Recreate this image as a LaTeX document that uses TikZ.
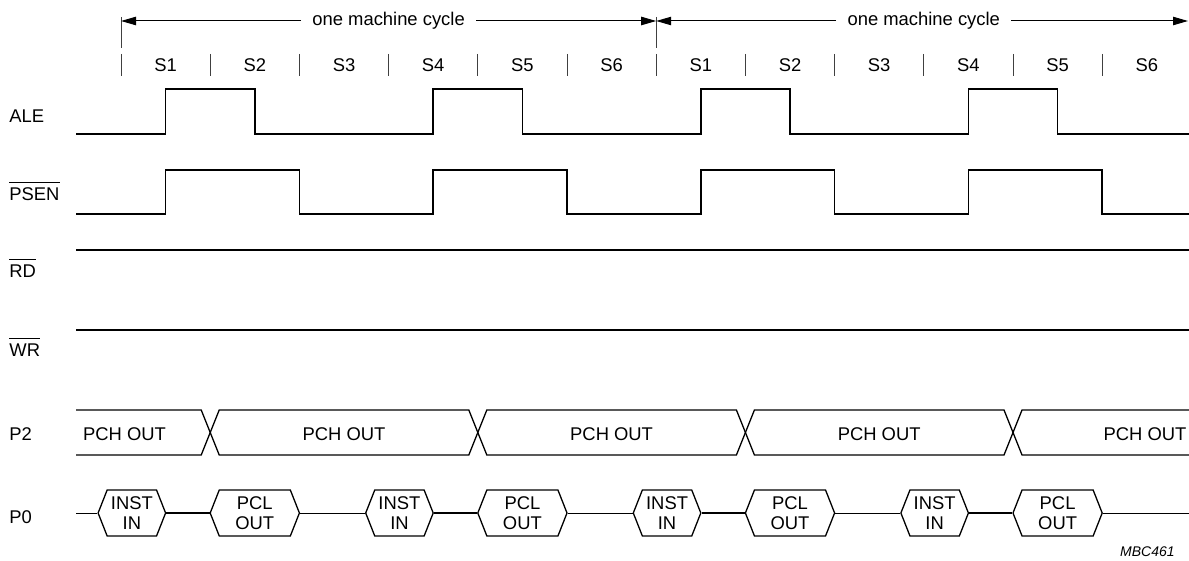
\documentclass[tikz,border=0pt]{standalone}
\usepackage{fontspec}
\setmainfont{Liberation Sans}
\usetikzlibrary{arrows.meta, positioning, calc, shapes.symbols}

% segnale attivo basso: barra sopra il nome
\newcommand{\negato}[1]{$\overline{\mbox{\rule{0pt}{7.8pt}#1}}$}

\begin{document}
\begin{tikzpicture}[
  x=0.5pt, y=-0.5pt,
  font=\fontsize{9.2}{10}\selectfont,
  segnale/.style={draw=black, line width=0.85pt},
  tacca/.style={draw=black!75, line width=0.5pt},
  freccia/.style={draw=black, line width=0.5pt, -{Triangle[length=7.5pt, width=4.2pt]}},
  nome/.style={anchor=base west, inner sep=0pt},
  stato/.style={anchor=base, inner sep=0pt},
  ciclo/.style={inner xsep=5.5pt, inner ysep=0pt},
  dato/.style={draw=black, line width=0.65pt},
  esagono/.style={draw=black, line width=0.65pt, shape=signal, signal to=east and west,
                  signal pointer angle=137, minimum width=33.75pt, minimum height=23pt,
                  inner sep=0pt, align=center},
  flottante/.style={draw=black, line width=1.15pt},
  libero/.style={draw=black, line width=0.5pt}
]

% Passo di uno stato (S1...S6) in pixel dell'originale: \T{k} = inizio dello stato k
\def\T#1{(121+(#1)*89.2)}

\useasboundingbox (0,0) rectangle (1189,561);

% ---- nomi dei segnali ----------------------------------------------
\node[nome] (ale)  at (9,122.5) {ALE};
\node[nome] (psen) at (9,201)   {\negato{PSEN}};
\node[nome] (rd)   at (9,278)   {\negato{RD}};
\node[nome] (wr)   at (9,357)   {\negato{WR}};
\node[nome] (p2)   at (9,440)   {P2};
\node[nome] (p0)   at (9,523)   {P0};

% ---- cicli macchina e stati ----------------------------------------
\coordinate (inizio1) at ({\T{0}},21);
\coordinate (fine1)   at ({\T{6}},21);
\coordinate (fine2)   at (1188,21);
\draw[tacca] ({\T{0}},17) -- ({\T{0}},48);
\draw[tacca] ({\T{6}},17) -- ({\T{6}},48);

\node[ciclo] (ciclo1) at ({\T{3}},21) {one machine cycle};
\node[ciclo] (ciclo2) at ({\T{9}},21) {one machine cycle};
\draw[freccia] (ciclo1.west) -- (inizio1);
\draw[freccia] (ciclo1.east) -- (fine1);
\draw[freccia] (ciclo2.west) -- (fine1);
\draw[freccia] (ciclo2.east) -- (fine2);

\foreach \k in {0,...,11}
  \draw[tacca] ({\T{\k}},54) -- ({\T{\k}},76);
\foreach \c in {0,1}
  \foreach \s in {1,...,6}
    \node[stato] (s\c\s) at ({\T{6*\c+\s-0.5}},71.7) {S\s};

% ---- ALE e PSEN ----------------------------------------------------
\draw[segnale] (76,134)
  \foreach \c in {0,6} {
    -| ({\T{\c+0.5}},89) -| ({\T{\c+1.5}},134) -| ({\T{\c+3.5}},89) -| ({\T{\c+4.5}},134)
  } -- (1189,134);
\draw[segnale] (76,214)
  \foreach \c in {0,6} {
    -| ({\T{\c+0.5}},170) -| ({\T{\c+2}},214) -| ({\T{\c+3.5}},170) -| ({\T{\c+5}},214)
  } -- (1189,214);

% ---- RD e WR: fermi alti -------------------------------------------
\draw[segnale] (76,250) -- (1189,250);
\draw[segnale] (76,330) -- (1189,330);

% ---- P2: cambia all'inizio di S2 e S5 ------------------------------
\draw[dato] (76,410) -- ({\T{1}-9},410) -- ({\T{1}},432.5) -- ({\T{1}-9},455) -- (76,455);
\foreach \a/\b in {1/4, 4/7, 7/10}
  \draw[dato] ({\T{\a}},432.5) -- ({\T{\a}+9},410) -- ({\T{\b}-9},410) -- ({\T{\b}},432.5)
              -- ({\T{\b}-9},455) -- ({\T{\a}+9},455) -- cycle;
\draw[dato] (1189,410) -- ({\T{10}+9},410) -- ({\T{10}},432.5) -- ({\T{10}+9},455) -- (1189,455);

\node[stato] (pch1) at (124.5,440) {PCH OUT};
\foreach \k [count=\i from 2] in {2.5,5.5,8.5}
  \node[stato] (pch\i) at ({\T{\k}},440) {PCH OUT};
\node[stato] (pch5) at (1145,440) {PCH OUT};

% ---- P0 ------------------------------------------------------------
\foreach \k [count=\i] in {0.5,3.5,6.5,9.5}
  \node[esagono] (inst\i) at ({\T{\k}-33.75},513) {INST\\IN};
\foreach \k [count=\i] in {1.5,4.5,7.5,10.5}
  \node[esagono, minimum width=44.6pt] (pcl\i) at ({\T{\k}},513) {PCL\\OUT};

\coordinate (p0inizio) at (76,513);
\coordinate (p0fine)   at (1189,513);
\draw[libero] (p0inizio) -- (inst1.west);
\foreach \i [evaluate=\i as \j using int(\i+1)] in {1,2,3}
  \draw[libero] (pcl\i.east) -- (inst\j.west);
\draw[libero] (pcl4.east) -- (p0fine);
\foreach \i in {1,...,4}
  \draw[flottante] (inst\i.east) -- (pcl\i.west);

\node[anchor=base east, inner sep=0pt, font=\fontsize{7}{8}\selectfont\itshape] (codice)
  at (1175,556.5) {MBC461};

\end{tikzpicture}
\end{document}
